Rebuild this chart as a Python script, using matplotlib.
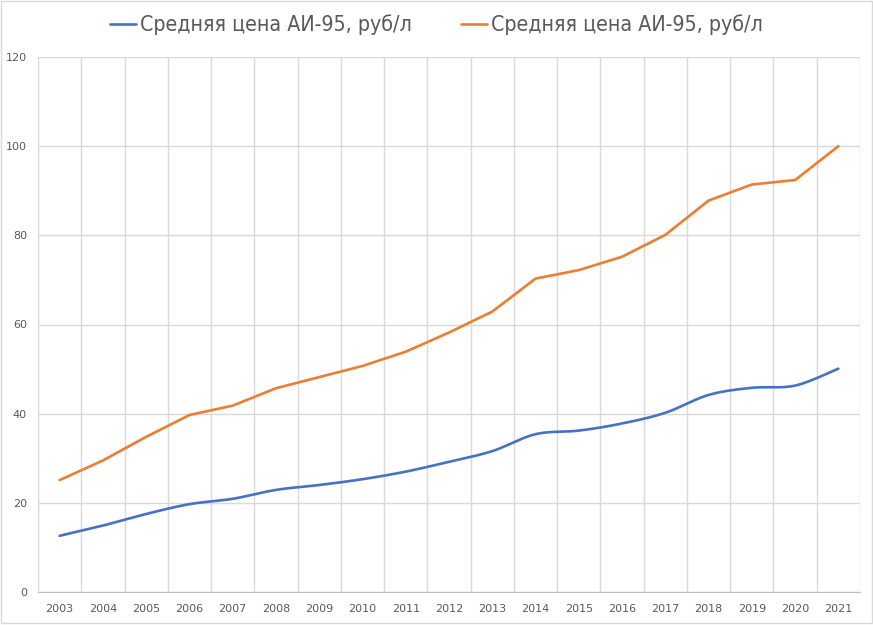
import numpy as np
import matplotlib
matplotlib.use("Agg")
import matplotlib.pyplot as plt
from matplotlib.patches import Rectangle
from matplotlib.font_manager import FontProperties

years = [str(y) for y in range(2003, 2022)]
blue_vals = [12.6, 14.9, 17.5, 19.7, 20.9, 22.9, 24.0, 25.3, 27.0, 29.2,
             31.6, 35.4, 36.2, 37.8, 40.2, 44.2, 45.8, 46.3, 50.1]
orange_vals = [25.1, 29.5, 34.8, 39.7, 41.8, 45.7, 48.2, 50.7, 53.9, 58.2,
               62.9, 70.3, 72.2, 75.2, 80.1, 87.8, 91.4, 92.4, 100.0]
series_label = "Средняя цена АИ-95, руб/л"
yticks = [0, 20, 40, 60, 80, 100, 120]

BLUE = "#4472c4"
ORANGE = "#ed7d31"


def smooth(x, y, n=30):
    x = np.asarray(x, float)
    y = np.asarray(y, float)
    px = np.concatenate([[x[0]], x, [x[-1]]])
    py = np.concatenate([[y[0]], y, [y[-1]]])
    xs, ys = [], []
    t = np.linspace(0, 1, n)
    for i in range(1, len(px) - 2):
        p0 = np.array([px[i], py[i]])
        p3 = np.array([px[i + 1], py[i + 1]])
        p1 = p0 + (np.array([px[i + 1], py[i + 1]]) - np.array([px[i - 1], py[i - 1]])) / 6
        p2 = p3 - (np.array([px[i + 2], py[i + 2]]) - np.array([px[i], py[i]])) / 6
        b = ((1 - t) ** 3)[:, None] * p0 + (3 * (1 - t) ** 2 * t)[:, None] * p1 \
            + (3 * (1 - t) * t ** 2)[:, None] * p2 + (t ** 3)[:, None] * p3
        xs.append(b[:, 0])
        ys.append(b[:, 1])
    return np.concatenate(xs), np.concatenate(ys)


fig = plt.figure(figsize=(8.73, 6.25), dpi=100)
W, H = 873, 625
ax = fig.add_axes([38 / W, (H - 592) / H, (860 - 38) / W, (592 - 57) / H])

idx = np.arange(len(years))
sx, sy = smooth(idx, blue_vals)
ax.plot(sx, sy, color=BLUE, lw=1.9, label=series_label, solid_capstyle="round")
ax.plot(idx, orange_vals, color=ORANGE, lw=1.9, label=series_label, solid_capstyle="round")

ax.set_xlim(-0.5, len(years) - 0.5)
ax.set_ylim(0, 120)
ax.set_yticks(yticks)
ax.set_xticks(idx)
ax.set_xticklabels(years)
ax.set_xticks(np.arange(-0.5, len(years)), minor=True)
ax.grid(True, which="minor", axis="x", color="#d9d9d9", lw=1)
ax.grid(True, which="major", axis="y", color="#d9d9d9", lw=1)
ax.set_axisbelow(True)
ax.tick_params(axis="both", which="both", length=0, labelsize=8, labelcolor="#595959")
ax.tick_params(axis="x", pad=9)
ax.tick_params(axis="y", pad=8)
for s in ["top", "right"]:
    ax.spines[s].set_visible(False)
ax.spines["left"].set_color("#d9d9d9")
ax.spines["bottom"].set_color("#bfbfbf")

fp = FontProperties(family="DejaVu Sans", stretch="condensed", size=15.3)
leg = fig.legend(loc="center", bbox_to_anchor=(0.5, (H - 25) / H), ncol=2, frameon=False,
                 prop=fp, handlelength=1.22, handletextpad=0.2, columnspacing=2.3)
for t in leg.get_texts():
    t.set_color("#595959")

fig.patches.append(Rectangle((0.5 / W, 2 / H), (W - 1.5) / W, (H - 3) / H, transform=fig.transFigure,
                             fill=False, edgecolor="#d9d9d9", lw=1))

fig.savefig("out.png", dpi=100)
